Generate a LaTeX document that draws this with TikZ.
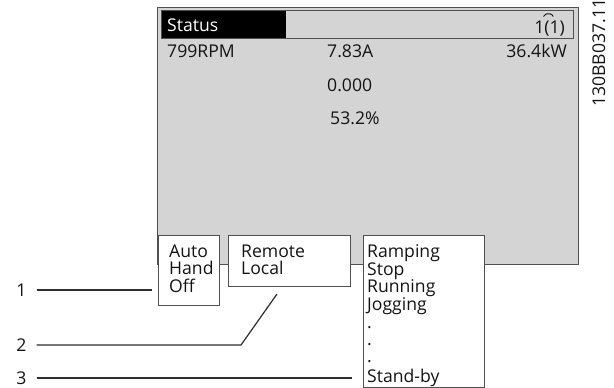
\documentclass[tikz,border=0pt]{standalone}
\usepackage{fontspec}
\setmainfont{Open Sans}
\definecolor{panelgrey}{RGB}{212,212,212}
\definecolor{edgegrey}{RGB}{80,80,80}
\definecolor{inkc}{RGB}{20,20,20}
\definecolor{leadc}{RGB}{45,45,45}
\tikzset{
  txt/.style={inner sep=0pt, anchor=base west, text=inkc, font=\fontsize{17.6}{18}\selectfont},
  txtr/.style={txt, anchor=base east},
  panel/.style={draw=edgegrey, line width=1pt, fill=panelgrey},
  menubox/.style={draw=edgegrey, line width=1pt, fill=white},
  leader/.style={draw=leadc, line width=1.2pt},
}
\begin{document}
\begin{tikzpicture}[x=1pt,y=-1pt]
\useasboundingbox (0,0) rectangle (614,388);
% display panel
\path[panel] (157,7) rectangle (578,264);
\path[fill=black] (161,10) rectangle (286,38.5);
\path[draw=edgegrey, line width=1pt] (161,10) rectangle (573,38.5);
\node[txt, text=white] (status) at (167,31) {Status};
\node[txtr] (page) at (565,34) {1(1)};
\draw[inkc, line width=0.9pt] (543.5,16.5) arc[start angle=200, end angle=340, x radius=5.2, y radius=4.5];
\node[txt] (rpm) at (167,57) {799RPM};
\node[txt] (amp) at (327,57) {7.83A};
\node[txtr] (kw) at (567,57) {36.4kW};
\node[txt] (zero) at (327,91) {0.000};
\node[txt] (pct) at (330,124) {53.2\%};
% code
\node[txt, rotate=90] (code) at (605,107) {130BB037.11};
% menu boxes
\path[menubox] (158,235) rectangle (219,305);
\coordinate (b1) at (152,290);
\path[menubox] (228,235) rectangle (350,286);
\coordinate (b2) at (277,294);
\path[menubox] (363,235) rectangle (484,387);
\coordinate (b3) at (352,378);
\node[txt] (auto) at (169,257) {Auto};
\node[txt] (hand) at (169,274) {Hand};
\node[txt] (off) at (169,292) {Off};
\node[txt] (remote) at (241,257) {Remote};
\node[txt] (local) at (241,274) {Local};
\node[txt] (ramp) at (367,257) {Ramping};
\node[txt] (stop) at (367,275) {Stop};
\node[txt] (run) at (367,292) {Running};
\node[txt] (jog) at (367,310) {Jogging};
\node[txt] (d1) at (367,328) {.};
\node[txt] (d2) at (367,345) {.};
\node[txt] (d3) at (367,362) {.};
\node[txt] (stand) at (367,382) {Stand-by};
% callouts
\node[txt, anchor=center] (n1) at (21.5,290) {1};
\node[txt, anchor=center] (n2) at (21.5,345) {2};
\node[txt, anchor=center] (n3) at (21.5,378) {3};
\draw[leader] (n1.east) ++(10,0) coordinate (s1) -- (b1);
\draw[leader] (n2.east) ++(10,0) coordinate (s2) -- (241,345) -- (b2);
\draw[leader] (n3.east) ++(10,0) coordinate (s3) -- (b3);
\end{tikzpicture}
\end{document}
